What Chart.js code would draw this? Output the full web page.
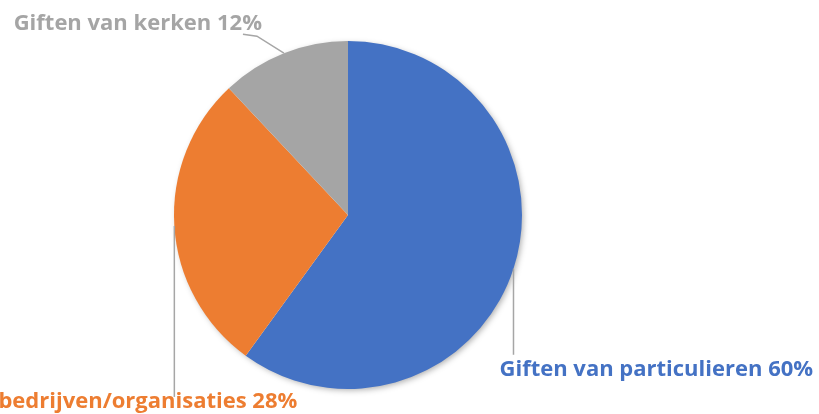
<!DOCTYPE html>
<html>
<head>
<meta charset="utf-8">
<script src="https://cdn.jsdelivr.net/npm/chart.js@4.4.1/dist/chart.umd.min.js"></script>
<style>
    html, body { margin: 0; padding: 0; background: #fff; }
    #wrap { width: 819px; height: 414px; position: relative; }
</style>
</head>
<body>
<div id="wrap"><canvas id="pieChart"></canvas></div>
<script>
const categories = ['Giften van particulieren', 'Giften van bedrijven/organisaties', 'Giften van kerken'];
const shares = [60, 28, 12];
const sliceColors = ['#4472C4', '#ED7D31', '#A5A5A5'];

// where each label sits, relative to the slice anchor (layout only)
const labelLayout = [
    { path: [[0, 86]], text: [-14, 107], align: 'left' },
    { path: [[0, 171]], text: [123, 182], align: 'right' },
    { path: [[-27, -17], [-41, -19]], text: [-22, -23], align: 'right' }
];

const FONT = 'bold 22px "Open Sans", Lato, sans-serif';

// soft shadow under the whole pie
const pieShadow = {
    id: 'pieShadow',
    beforeDatasetsDraw(chart) {
        const arc = chart.getDatasetMeta(0).data[0];
        if (!arc) return;
        const ctx = chart.ctx;
        ctx.save();
        ctx.shadowColor = 'rgba(0,0,0,0.35)';
        ctx.shadowBlur = 6;
        ctx.shadowOffsetX = 2;
        ctx.shadowOffsetY = 2;
        ctx.fillStyle = '#fff';
        ctx.beginPath();
        ctx.arc(arc.x, arc.y, arc.outerRadius - 1, 0, Math.PI * 2);
        ctx.fill();
        ctx.restore();
    }
};

const leaderLabels = {
    id: 'leaderLabels',
    afterDatasetsDraw(chart) {
        const ctx = chart.ctx;
        const meta = chart.getDatasetMeta(0);
        meta.data.forEach((arc, i) => {
            const mid = (arc.startAngle + arc.endAngle) / 2;
            const ax = arc.x + Math.cos(mid) * arc.outerRadius;
            const ay = arc.y + Math.sin(mid) * arc.outerRadius;
            const lay = labelLayout[i];

            ctx.save();
            ctx.strokeStyle = '#A6A6A6';
            ctx.lineWidth = 1.5;
            ctx.beginPath();
            ctx.moveTo(ax, ay);
            lay.path.forEach(p => ctx.lineTo(ax + p[0], ay + p[1]));
            ctx.stroke();

            ctx.font = FONT;
            ctx.fillStyle = sliceColors[i];
            ctx.textAlign = lay.align;
            ctx.textBaseline = 'alphabetic';
            ctx.fillText(categories[i] + ' ' + shares[i] + '%', ax + lay.text[0], ay + lay.text[1]);
            ctx.restore();
        });
    }
};

const ctx = document.getElementById('pieChart').getContext('2d');
new Chart(ctx, {
    type: 'pie',
    data: {
        labels: categories,
        datasets: [{
            data: shares,
            backgroundColor: sliceColors,
            borderWidth: 0
        }]
    },
    options: {
        responsive: true,
        maintainAspectRatio: false,
        animation: false,
        layout: { padding: { top: 41, bottom: 25, left: 174, right: 297 } },
        plugins: {
            legend: { display: false },
            tooltip: { enabled: false }
        }
    },
    plugins: [pieShadow, leaderLabels]
});
</script>
</body>
</html>
